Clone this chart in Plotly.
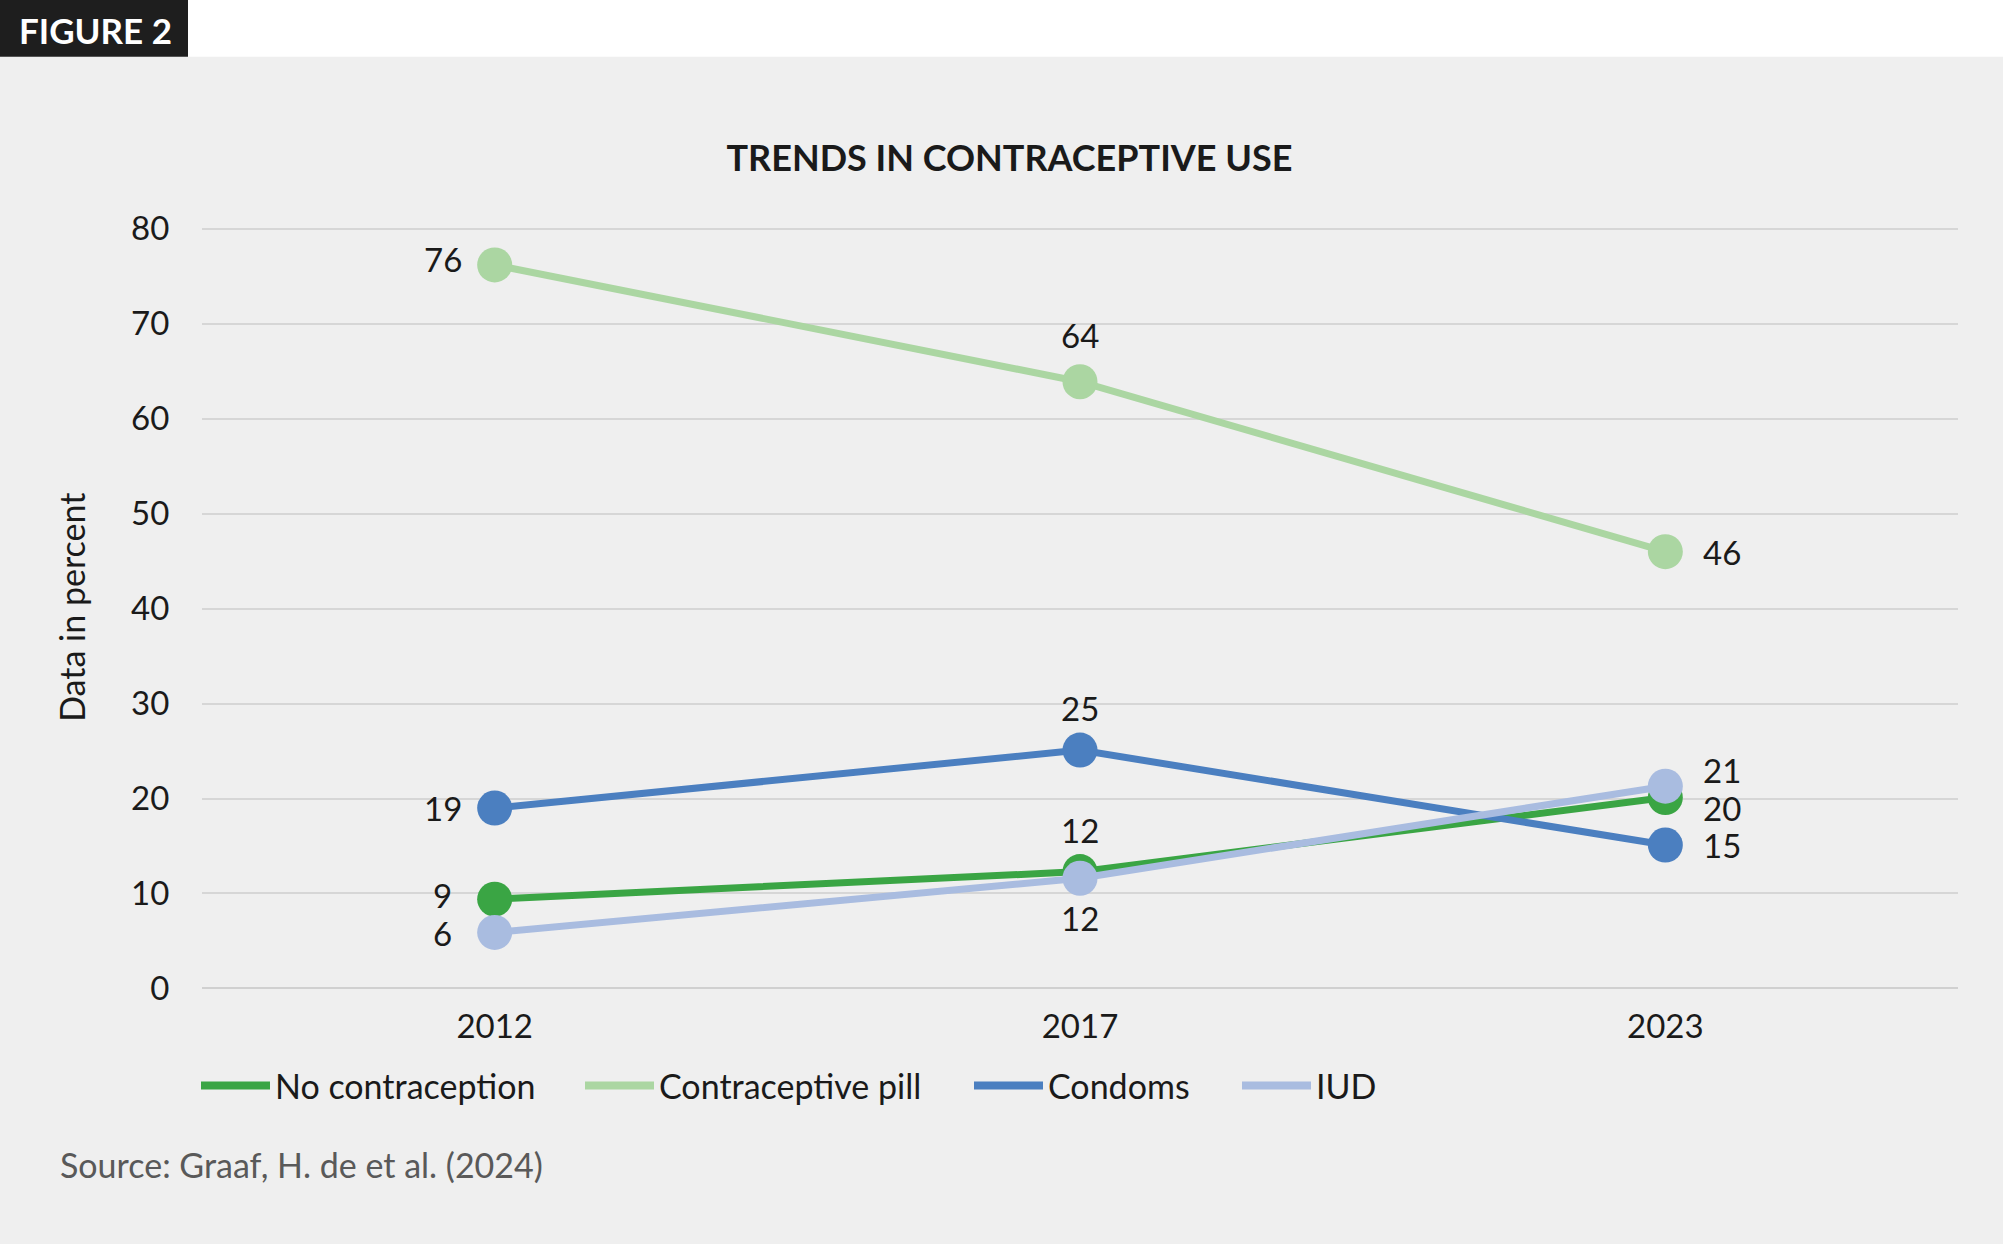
import plotly.graph_objects as go

years = ["2012", "2017", "2023"]
series_names = ["No contraception", "Contraceptive pill", "Condoms", "IUD"]
no_contraception = [9.4, 12.3, 20.1]
contraceptive_pill = [76.2, 63.9, 46.0]
condoms = [19.0, 25.1, 15.1]
iud = [5.9, 11.6, 21.3]
y_ticks = [0, 10, 20, 30, 40, 50, 60, 70, 80]

values = [no_contraception, contraceptive_pill, condoms, iud]
colors = ["#3aa544", "#abd6a2", "#4b7fc0", "#a9bce0"]
# label placement per series/point: (xshift, yshift)
offsets = [
    [(-52, 4), (0, 42), (57, -10)],
    [(-52, 6), (0, 47), (57, 0)],
    [(-52, 0), (0, 42), (57, 0)],
    [(-52, -1), (0, -40), (57, 16)],
]
# left pixel position of each legend entry
legend_left = [196, 580, 969, 1237]

W, H = 2003, 1244
ml, mr, mt, mb = 202, 45, 226, 252
pw, ph = W - ml - mr, H - mt - mb


def px_x(p):
    return (p - ml) / pw


def px_y(p):
    return (H - mb - p) / ph


FONT = "Lato"
LBL = 33
fig = go.Figure()

for name, vals, col in zip(series_names, values, colors):
    fig.add_trace(go.Scatter(
        x=years, y=vals, mode="lines+markers", name=name, showlegend=False,
        line=dict(color=col, width=7), marker=dict(size=35, color=col),
        cliponaxis=False, hoverinfo="skip"))

legend_ids = ["legend", "legend2", "legend3", "legend4"]
for name, col, lid in zip(series_names, colors, legend_ids):
    fig.add_trace(go.Scatter(
        x=[None], y=[None], mode="lines", name=name, showlegend=True,
        legend=lid, line=dict(color=col, width=8)))

annotations = []
for vals, offs in zip(values, offsets):
    for i, (yv, (dx, dy)) in enumerate(zip(vals, offs)):
        annotations.append(dict(
            x=i, y=yv, xref="x", yref="y", text=str(round(yv)),
            showarrow=False, xshift=dx, yshift=dy,
            font=dict(family=FONT, size=LBL, color="#1a1a1a")))

annotations.append(dict(
    x=px_x(95), y=px_y(29), xref="paper", yref="paper", text="<b>FIGURE 2</b>",
    showarrow=False, xanchor="center", yanchor="middle",
    font=dict(family=FONT, size=35, color="#ffffff")))
annotations.append(dict(
    x=px_x(58), y=px_y(1169), xref="paper", yref="paper",
    text="Source: Graaf, H. de et al. (2024)",
    showarrow=False, xanchor="left", yanchor="middle",
    font=dict(family=FONT, size=34, color="#595959")))

shapes = [
    dict(type="rect", xref="paper", yref="paper", x0=px_x(-5), x1=px_x(W + 5),
         y0=px_y(-5), y1=px_y(56), fillcolor="#ffffff", line=dict(width=0),
         layer="below"),
    dict(type="rect", xref="paper", yref="paper", x0=px_x(-5), x1=px_x(188),
         y0=px_y(-5), y1=px_y(56), fillcolor="#1e1e1e", line=dict(width=0),
         layer="below"),
]

legend_style = dict(orientation="h", xref="container", xanchor="left",
                    yref="container", y=1 - 1086 / H, yanchor="middle",
                    font=dict(family=FONT, size=34), bgcolor="rgba(0,0,0,0)",
                    itemwidth=69)
legends = {lid: dict(legend_style, x=lx / W)
           for lid, lx in zip(legend_ids, legend_left)}

fig.update_layout(
    width=W, height=H,
    margin=dict(l=ml, r=mr, t=mt, b=mb),
    paper_bgcolor="#efefef", plot_bgcolor="#efefef",
    font=dict(family=FONT, size=33, color="#1a1a1a"),
    title=dict(text="<b>TRENDS IN CONTRACEPTIVE USE</b>", x=0.504, xanchor="center",
               xref="container", yref="container", y=1 - 158 / H, yanchor="middle",
               font=dict(family=FONT, size=36, color="#1a1a1a")),
    xaxis=dict(type="category", range=[-0.5, 2.5], showgrid=False,
               showline=False, zeroline=False, ticks="outside", ticklen=9,
               tickcolor="rgba(0,0,0,0)", tickfont=dict(size=LBL)),
    yaxis=dict(range=[0, 80.3], tickvals=y_ticks, showgrid=True,
               gridcolor="#d6d6d6", gridwidth=2, zeroline=True,
               zerolinecolor="#d0d0d0", zerolinewidth=2, showline=False,
               ticks="outside", ticklen=25, tickcolor="rgba(0,0,0,0)",
               tickfont=dict(size=LBL),
               title=dict(text="Data in percent", standoff=35,
                          font=dict(size=34))),
    annotations=annotations, shapes=shapes,
    **legends,
)

fig.write_html("out.html", config={"displayModeBar": False},
               post_script="document.body.style.margin='0';")
